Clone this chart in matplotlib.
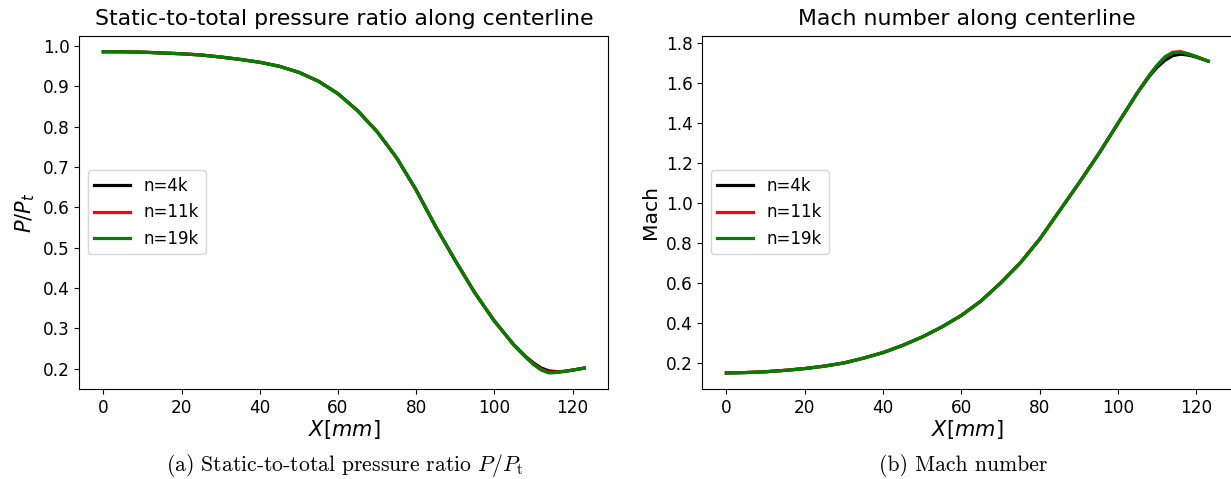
import matplotlib
matplotlib.use('Agg')
import matplotlib.pyplot as plt

# positions along the centerline, mm
x_mm = [0, 5, 10, 15, 20, 25, 30, 35, 40, 45, 50, 55, 60, 65, 70, 75, 80,
        85, 90, 95, 100, 105, 108, 110, 112, 114, 116, 118, 120, 123]

# static-to-total pressure ratio
p_4k = [0.986, 0.986, 0.985, 0.983, 0.981, 0.978, 0.973, 0.967, 0.960, 0.950,
        0.935, 0.913, 0.882, 0.840, 0.788, 0.723, 0.643, 0.552, 0.468, 0.388,
        0.318, 0.259, 0.230, 0.214, 0.201, 0.194, 0.192, 0.193, 0.196, 0.201]
p_11k = [0.986, 0.986, 0.985, 0.983, 0.981, 0.978, 0.973, 0.967, 0.960, 0.950,
         0.935, 0.913, 0.882, 0.840, 0.788, 0.723, 0.643, 0.552, 0.468, 0.388,
         0.318, 0.258, 0.229, 0.212, 0.198, 0.191, 0.191, 0.193, 0.196, 0.201]
p_19k = [0.986, 0.986, 0.985, 0.983, 0.981, 0.978, 0.973, 0.967, 0.960, 0.950,
         0.935, 0.913, 0.882, 0.840, 0.788, 0.723, 0.643, 0.552, 0.468, 0.388,
         0.318, 0.258, 0.228, 0.210, 0.196, 0.189, 0.190, 0.193, 0.196, 0.201]

# Mach number
m_4k = [0.150, 0.152, 0.156, 0.163, 0.172, 0.184, 0.200, 0.224, 0.252, 0.288,
        0.330, 0.380, 0.438, 0.510, 0.600, 0.700, 0.820, 0.960, 1.100, 1.245,
        1.400, 1.553, 1.635, 1.680, 1.715, 1.738, 1.745, 1.740, 1.730, 1.710]
m_11k = [0.150, 0.152, 0.156, 0.163, 0.172, 0.184, 0.200, 0.224, 0.252, 0.288,
         0.330, 0.380, 0.438, 0.510, 0.600, 0.700, 0.820, 0.960, 1.100, 1.245,
         1.400, 1.555, 1.640, 1.690, 1.732, 1.755, 1.757, 1.746, 1.733, 1.710]
m_19k = [0.150, 0.152, 0.156, 0.163, 0.172, 0.184, 0.200, 0.224, 0.252, 0.288,
         0.330, 0.380, 0.438, 0.510, 0.600, 0.700, 0.820, 0.960, 1.100, 1.245,
         1.400, 1.555, 1.640, 1.690, 1.730, 1.752, 1.755, 1.745, 1.732, 1.710]

labels = ['n=4k', 'n=11k', 'n=19k']
colors = ['black', 'red', 'green']

DPI = 100
fig = plt.figure(dpi=DPI, figsize=(1231 / DPI, 479 / DPI))

ax1 = fig.add_axes([79.3 / 1231, 90 / 479, 529 / 1231, 353.3 / 479])
ax2 = fig.add_axes([702.3 / 1231, 90 / 479, 530 / 1231, 353.3 / 479])

for ys, lab, c in zip([p_4k, p_11k, p_19k], labels, colors):
    ax1.plot(x_mm, ys, color=c, lw=2.3, label=lab)
for ys, lab, c in zip([m_4k, m_11k, m_19k], labels, colors):
    ax2.plot(x_mm, ys, color=c, lw=2.3, label=lab)

ax1.set_title('Static-to-total pressure ratio along centerline', fontsize=15.8, pad=8)
ax1.set_xlabel('$X[mm]$', fontsize=15, labelpad=1)
ax1.set_ylabel('$P/P_t$', fontsize=15)
ax2.set_title('Mach number along centerline', fontsize=15.8, pad=8)
ax2.set_xlabel('$X[mm]$', fontsize=15, labelpad=1)
ax2.set_ylabel('Mach', fontsize=14.6)

for ax in (ax1, ax2):
    ax.tick_params(labelsize=12.2)
    ax.legend(loc='center left', fontsize=12, handlelength=2.15)

fig.text(345 / 1231, 1 - 471 / 479, '(a) Static-to-total pressure ratio $P/P_\\mathrm{t}$',
         family='cmr10', math_fontfamily='cm', fontsize=15.6, ha='center', va='baseline')
fig.text(963 / 1231, 1 - 471 / 479, '(b) Mach number',
         family='cmr10', math_fontfamily='cm', fontsize=15.6, ha='center', va='baseline')

fig.savefig('out.png', dpi=DPI)
